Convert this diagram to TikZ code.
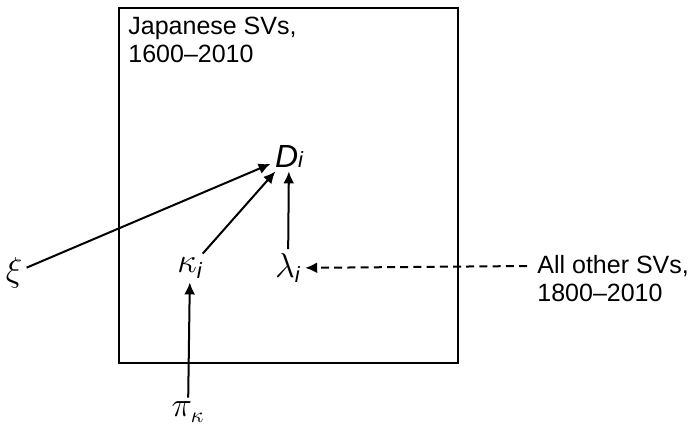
\documentclass[tikz,border=0pt]{standalone}
\usepackage{fontspec}
\setmainfont{Liberation Sans}
\usetikzlibrary{arrows.meta}
\newcommand\isub{\mbox{\fontsize{11}{12}\selectfont\itshape i}}
\begin{document}
\begin{tikzpicture}[x=0.5pt,y=-0.5pt,
  every node/.style={font=\fontsize{12.5}{14}\selectfont},
  lbl/.style={inner sep=2pt,font=\fontsize{16}{18}\selectfont},
  arr/.style={line width=1pt,-{Latex[length=6pt,width=5.5pt]}},
  darr/.style={arr,dash pattern=on 4pt off 2.6pt}]
\useasboundingbox (0,0) rectangle (695,441);
\draw[line width=0.6pt] (119,8) rectangle (458,363);
\node[anchor=north west,align=left,inner sep=0pt] (title) at (128,17) {Japanese SVs,\\1600--2010};
\node[lbl] (D) at (289,156) {\itshape D\isub};
\node[lbl] (k) at (190,268) {$\kappa_{\isub}$};
\node[lbl] (l) at (288,268) {$\lambda_{\isub}$};
\node[lbl] (xi) at (14,273) {$\xi$};
\node[lbl] (pi) at (188,412) {$\pi_\kappa$};
\node[anchor=west,align=left,inner sep=0pt] (other) at (537,279) {All other SVs,\\1800--2010};
\draw[darr] (other.west |- l) ++(-10,-2) coordinate (o) -- (l);
\draw[arr] (xi) -- (D);
\draw[arr] (k) -- (D);
\draw[arr] (l) -- (D);
\draw[arr] (pi) -- (k);
\end{tikzpicture}
\end{document}
